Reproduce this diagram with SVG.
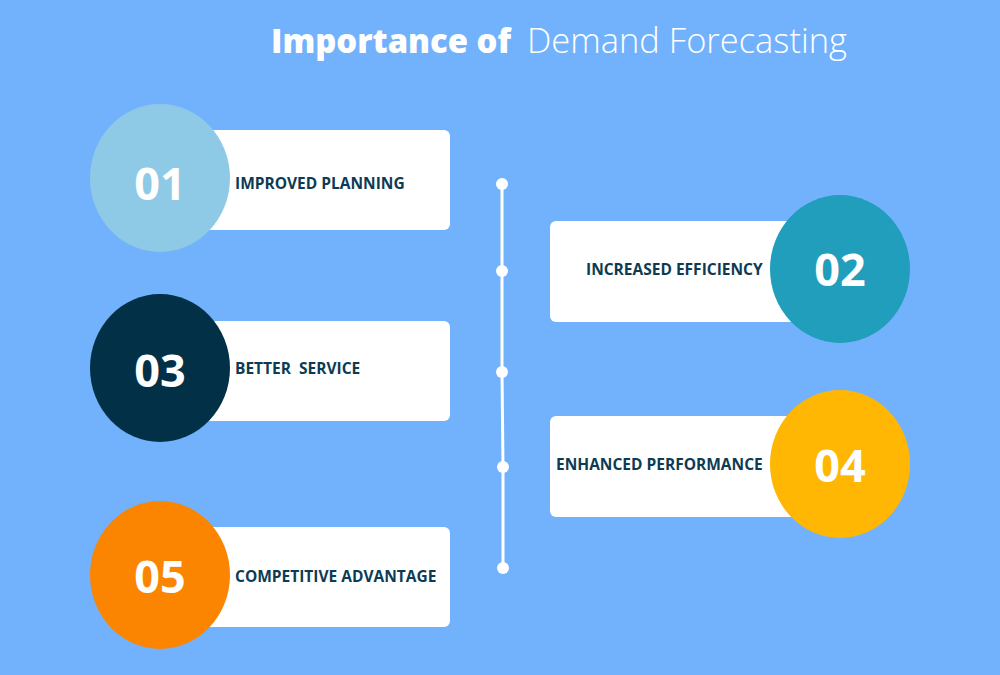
<svg xmlns="http://www.w3.org/2000/svg" width="1000" height="675" viewBox="0 0 1000 675">
<style>
.box{fill:#ffffff}
.lbl{font-family:"Open Sans","Liberation Sans",sans-serif;font-weight:700;font-size:15.5px;fill:#0d3b54}
.num{font-family:"Open Sans","Liberation Sans",sans-serif;font-weight:700;font-size:45px;fill:#ffffff;text-anchor:middle}
.dot{fill:#ffffff}
</style>
<rect width="1000" height="675" fill="#72b2fd"/>
<g id="title">
<text x="271" y="53" font-family="Open Sans, Liberation Sans, sans-serif" font-weight="800" font-size="34" fill="#ffffff" textLength="240" lengthAdjust="spacingAndGlyphs">Importance of</text>
<text x="527" y="53" font-family="Open Sans, Liberation Sans, sans-serif" font-weight="300" font-size="34" fill="#ffffff" textLength="320" lengthAdjust="spacingAndGlyphs">Demand Forecasting</text>
</g>
<g id="connectors">
<polyline points="502,184 502,271 502,372 503,467 503,568" fill="none" stroke="#ffffff" stroke-width="3"/>
<circle class="dot" cx="502" cy="184" r="6"/>
<circle class="dot" cx="502" cy="271" r="6"/>
<circle class="dot" cx="502" cy="372" r="6"/>
<circle class="dot" cx="503" cy="467" r="6"/>
<circle class="dot" cx="503" cy="568" r="6"/>
</g>
<g id="node01">
<rect class="box" x="200" y="130" width="250" height="100" rx="6"/>
<ellipse cx="160" cy="178" rx="70" ry="74" fill="#8ecae6"/>
<text class="num" x="160" y="200">01</text>
<text class="lbl" x="235" y="189">IMPROVED PLANNING</text>
</g>
<g id="node02">
<rect class="box" x="550" y="221" width="250" height="101" rx="6"/>
<ellipse cx="840" cy="269" rx="70" ry="74" fill="#219ebc"/>
<text class="num" x="840" y="286">02</text>
<text class="lbl" x="586" y="275">INCREASED EFFICIENCY</text>
</g>
<g id="node03">
<rect class="box" x="200" y="321" width="250" height="100" rx="6"/>
<ellipse cx="160" cy="368" rx="70" ry="74" fill="#023047"/>
<text class="num" x="160" y="387">03</text>
<text class="lbl" x="235" y="374" xml:space="preserve">BETTER  SERVICE</text>
</g>
<g id="node04">
<rect class="box" x="550" y="416" width="250" height="101" rx="6"/>
<ellipse cx="840" cy="464" rx="70" ry="74" fill="#ffb703"/>
<text class="num" x="840" y="482">04</text>
<text class="lbl" x="556" y="470">ENHANCED PERFORMANCE</text>
</g>
<g id="node05">
<rect class="box" x="200" y="527" width="250" height="100" rx="6"/>
<ellipse cx="160" cy="575" rx="70" ry="74" fill="#fb8500"/>
<text class="num" x="160" y="593">05</text>
<text class="lbl" x="235" y="582">COMPETITIVE ADVANTAGE</text>
</g>
</svg>
